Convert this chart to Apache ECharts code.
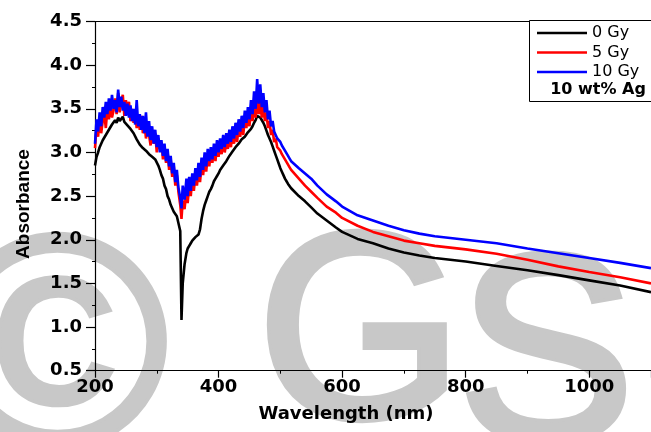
<!DOCTYPE html>
<html>
<head>
<meta charset="utf-8">
<script src="https://cdn.jsdelivr.net/npm/echarts@6/dist/echarts.min.js"></script>
<style>html,body{margin:0;padding:0;background:#fff;}#c{width:651px;height:432px;}</style>
</head>
<body>
<div id="c"></div>
<script>
var wavelengths = [
  200,202.5,205,207.5,210,212.5,215,217.5,220,222.5,
  225,227.5,230,232.5,235,237.5,240,242.5,245,247.5,
  250,252.5,255,257.5,260,262.5,265,267.5,270,272.5,
  275,277.5,280,282.5,285,287.5,290,292.5,295,297.5,
  300,302.5,305,307.5,310,312.5,315,317.5,320,322.5,
  325,327.5,330,332.5,335,
  338,340,342,345,348,
  350,352.5,355,357.5,360,362.5,365,367.5,370,372.5,
  375,377.5,380,382.5,385,387.5,390,392.5,395,397.5,
  400,402.5,405,407.5,410,412.5,415,417.5,420,422.5,
  425,427.5,430,432.5,435,437.5,440,442.5,445,447.5,
  450,452.5,455,457.5,460,462.5,465,467.5,470,472.5,
  475,477.5,480,482.5,485,487.5,490,492.5,495,497.5,
  500,502.5,505,507.5,510,512.5,515,517.5,
  520,
  530,540,550,560,575,590,600,625,650,675,700,725,750,775,800,850,900,950,1000,1050,1100];
var gy0 = [
  2.85,2.95,3.00,3.06,3.08,3.14,3.16,3.20,3.22,3.26,
  3.28,3.32,3.33,3.37,3.34,3.40,3.36,3.38,3.41,3.35,
  3.36,3.31,3.30,3.27,3.26,3.22,3.21,3.15,3.13,3.09,
  3.08,3.05,3.05,3.02,3.01,2.98,2.97,2.95,2.94,2.92,
  2.90,2.85,2.80,2.74,2.70,2.62,2.58,2.50,2.46,2.40,
  2.36,2.32,2.30,2.27,2.25,
  2.10,1.08,1.50,1.72,1.85,
  1.90,1.93,1.96,1.99,2.00,2.03,2.02,2.06,2.12,2.24,
  2.33,2.40,2.45,2.50,2.55,2.58,2.62,2.67,2.70,2.73,
  2.76,2.80,2.82,2.85,2.87,2.90,2.92,2.96,2.98,3.01,
  3.03,3.06,3.08,3.10,3.12,3.15,3.17,3.18,3.20,3.23,
  3.25,3.27,3.30,3.34,3.37,3.42,3.44,3.40,3.38,3.34,
  3.30,3.25,3.20,3.16,3.12,3.07,3.02,2.97,2.92,2.87,
  2.82,2.78,2.74,2.70,2.67,2.64,2.62,2.59,
  2.57,
  2.50,2.44,2.37,2.30,2.22,2.14,2.09,2.01,1.96,1.90,1.855,1.82,1.79,1.77,1.75,1.70,1.65,1.595,1.535,1.475,1.40];
var gy5 = [
  3.05,3.30,3.18,3.40,3.22,3.36,3.45,3.28,3.50,3.38,
  3.56,3.40,3.48,3.62,3.44,3.68,3.46,3.58,3.66,3.42,
  3.60,3.48,3.58,3.36,3.50,3.34,3.46,3.28,3.40,3.26,
  3.42,3.22,3.34,3.16,3.30,3.20,3.08,3.26,3.10,3.22,
  3.00,3.16,3.04,3.12,2.92,3.06,2.88,3.00,2.80,2.92,
  2.72,2.84,2.62,2.74,2.55,
  2.40,2.24,2.45,2.35,2.58,
  2.42,2.62,2.50,2.70,2.56,2.74,2.62,2.80,2.66,2.86,
  2.74,2.92,2.78,2.96,2.84,3.00,2.88,3.04,2.90,3.08,
  2.95,3.10,2.98,3.14,3.00,3.12,3.04,3.18,3.06,3.22,
  3.10,3.26,3.12,3.30,3.18,3.34,3.20,3.40,3.28,3.44,
  3.30,3.50,3.36,3.52,3.40,3.60,3.44,3.58,3.40,3.54,
  3.36,3.46,3.28,3.36,3.20,3.26,3.12,3.16,3.06,3.08,
  3.02,2.98,2.96,2.92,2.90,2.86,2.83,2.80,
  2.78,
  2.70,2.62,2.55,2.48,2.38,2.31,2.25,2.16,2.09,2.04,1.99,1.96,1.93,1.91,1.89,1.84,1.77,1.695,1.63,1.57,1.50];
var gy10 = [
  3.10,3.38,3.24,3.46,3.30,3.52,3.40,3.58,3.44,3.62,
  3.48,3.66,3.50,3.60,3.46,3.72,3.52,3.64,3.48,3.58,
  3.42,3.56,3.40,3.54,3.36,3.50,3.32,3.60,3.30,3.44,
  3.26,3.42,3.22,3.46,3.18,3.36,3.14,3.30,3.10,3.26,
  3.06,3.20,3.00,3.14,2.96,3.10,2.90,3.04,2.84,2.96,
  2.76,2.88,2.66,2.80,2.60,
  2.48,2.36,2.62,2.46,2.70,
  2.50,2.72,2.56,2.76,2.62,2.82,2.68,2.88,2.72,2.94,
  2.80,3.00,2.84,3.04,2.90,3.06,2.92,3.10,2.96,3.14,
  3.00,3.16,3.04,3.20,3.06,3.22,3.10,3.26,3.12,3.30,
  3.16,3.34,3.20,3.38,3.24,3.42,3.28,3.48,3.34,3.52,
  3.38,3.60,3.44,3.70,3.50,3.84,3.56,3.78,3.52,3.68,
  3.46,3.60,3.38,3.48,3.30,3.36,3.24,3.26,3.16,3.18,
  3.12,3.08,3.06,3.02,3.00,2.96,2.93,2.90,
  2.88,
  2.82,2.76,2.70,2.62,2.52,2.44,2.38,2.28,2.22,2.16,2.11,2.07,2.04,2.02,2.00,1.96,1.90,1.845,1.79,1.735,1.675];
var seriesNames = ['0 Gy','5 Gy','10 Gy'];
var seriesColors = ['#000000','#ff0000','#0000ff'];
var xTickLabels = ['200','400','600','800','1000'];
var yTickLabels = ['0.5','1.0','1.5','2.0','2.5','3.0','3.5','4.0','4.5'];
var xTitle = 'Wavelength (nm)';
var yTitle = 'Absorbance';
var sampleLabel = '10 wt% Ag';

function pairs(vals){ return wavelengths.map(function(w,i){ return [w, vals[i]]; }); }
var allVals = [gy0, gy5, gy10];

var chart = echarts.init(document.getElementById('c'), null, {renderer:'canvas'});
var labelFont = 'DejaVu Sans';
var wm = {fontFamily:'Liberation Sans', fill:'#c8c8c8', stroke:'#c8c8c8', lineWidth:7, align:'left', verticalAlign:'middle'};
function wmStyle(text, size){ var s = {}; for (var k in wm) s[k] = wm[k]; s.text = text; s.fontSize = size; return s; }
chart.setOption({
  animation:false,
  backgroundColor:'#ffffff',
  grid:{left:95, top:21.5, right:-7.3, bottom:61.3, show:false},
  xAxis:[{
    type:'value', min:200, max:1100, interval:200,
    axisLine:{show:true, onZero:false, lineStyle:{color:'#000', width:1.2}},
    axisTick:{show:true, length:7, lineStyle:{color:'#000', width:1.2}},
    minorTick:{show:true, splitNumber:2, length:3, lineStyle:{color:'#000'}},
    splitLine:{show:false},
    axisLabel:{margin:8, color:'#000', fontFamily:labelFont, fontWeight:'bold', fontSize:18,
      showMaxLabel:false,
      formatter:function(v){ var i = xTickLabels.indexOf(String(v)); return i>=0 ? xTickLabels[i] : ''; }}
  },{
    type:'value', min:200, max:1100, position:'top',
    axisLine:{show:true, onZero:false, lineStyle:{color:'#000', width:1.2}},
    axisTick:{show:false}, axisLabel:{show:false}, splitLine:{show:false}
  }],
  yAxis:{
    type:'value', min:0.5, max:4.5, interval:0.5,
    axisLine:{show:true, onZero:false, lineStyle:{color:'#000', width:1.2}},
    axisTick:{show:true, length:9, lineStyle:{color:'#000', width:1.2}},
    minorTick:{show:true, splitNumber:2, length:3, lineStyle:{color:'#000'}},
    splitLine:{show:false},
    axisLabel:{margin:13, color:'#000', fontFamily:labelFont, fontWeight:'bold', fontSize:18,
      formatter:function(v){ var s = v.toFixed(1); return yTickLabels.indexOf(s)>=0 ? s : ''; }}
  },
  legend:{
    show:true, orient:'vertical', left:537, top:25, padding:0,
    itemWidth:50, itemHeight:12, itemGap:3.5,
    data:seriesNames.map(function(n,k){ return {name:n, icon:'path://M0,0 L50,0 L50,2.4 L0,2.4 Z', itemStyle:{color:seriesColors[k]}}; }),
    textStyle:{fontFamily:labelFont, fontSize:16, color:'#000', lineHeight:16},
    z:120
  },
  series: seriesNames.map(function(n,k){
    return {
      name:n, type:'line', xAxisIndex:0, data:pairs(allVals[k]),
      symbol:'none', showSymbol:false,
      lineStyle:{color:seriesColors[k], width:2.6},
      itemStyle:{color:seriesColors[k]},
      z:2+k
    };
  }),
  graphic:[
    {type:'text', x:-53, y:362, z:-10, silent:true, style:wmStyle('\u00a9', 300)},
    {type:'text', x:257, y:344, z:-10, silent:true, style:wmStyle('G', 265)},
    {type:'text', x:458, y:366, z:-10, silent:true, style:wmStyle('S.', 265)},
    {type:'rect', z:100, silent:true,
      shape:{x:529.5, y:20.5, width:140, height:81},
      style:{fill:'#ffffff', stroke:'#000', lineWidth:1}},
    {type:'text', x:598, y:90, z:110, silent:true,
      style:{text:sampleLabel, fontFamily:labelFont, fontWeight:'bold', fontSize:16, fill:'#000', align:'center', verticalAlign:'middle'}},
    {type:'text', x:346, y:414, z:110, silent:true,
      style:{text:xTitle, fontFamily:labelFont, fontWeight:'bold', fontSize:18, fill:'#000', align:'center', verticalAlign:'middle'}},
    {type:'text', x:23.5, y:204, rotation:Math.PI/2, z:110, silent:true,
      style:{text:yTitle, fontFamily:'Liberation Sans', fontWeight:'bold', fontSize:19, fill:'#000', align:'center', verticalAlign:'middle'}}
  ]
});
</script>
</body>
</html>
